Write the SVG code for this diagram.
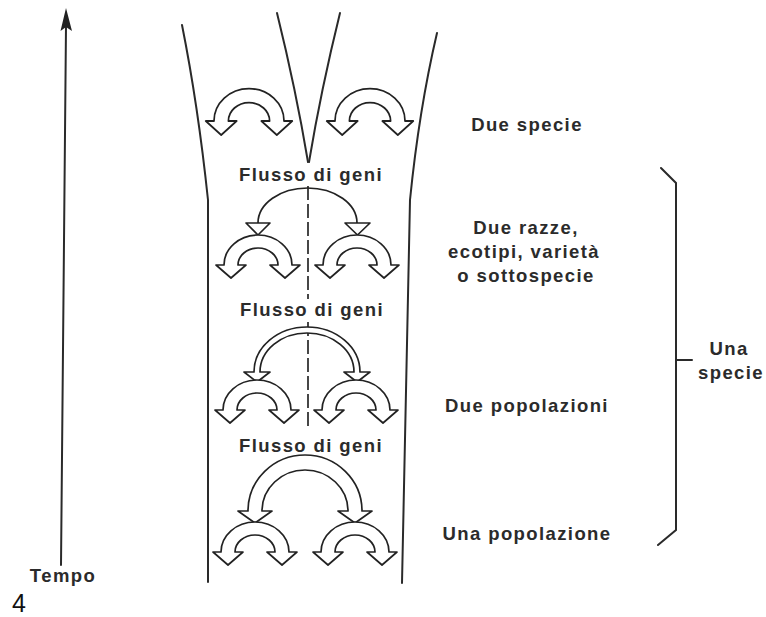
<svg xmlns="http://www.w3.org/2000/svg" width="766" height="617" viewBox="0 0 766 617">
<defs>
<style>
.lbl{font-family:"Liberation Sans",Arial,sans-serif;font-weight:bold;font-size:18.5px;letter-spacing:1.4px;fill:#2b2b2b;text-anchor:middle}
.num{font-family:"Liberation Sans",Arial,sans-serif;font-size:25px;fill:#111}
.ln{fill:none;stroke:#2a2a2a;stroke-width:2;stroke-linecap:round}
.hollow{fill:#fff;stroke:#222;stroke-width:1.7;stroke-linejoin:round}
.dash{fill:none;stroke:#333;stroke-width:1.8;stroke-dasharray:14 4}
</style>
<path id="pop" d="M -34 0 A 34 30 0 0 1 34 0 L 42 0 L 27 13 L 12 0 L 20 0 A 20 17 0 0 0 -20 0 L -12 0 L -27 13 L -42 0 Z"/>
</defs>
<rect width="766" height="617" fill="#fff"/>

<g id="time-axis">
<line class="ln" x1="61" y1="565" x2="66" y2="26"/>
<path d="M 66 8 L 72 31 L 66 27 L 60.5 31 Z" fill="#222"/>
<text class="lbl" x="63" y="582">Tempo</text>
</g>

<g id="tube">
<path class="ln" d="M 182 25 Q 198 105 208 200 L 208 582"/>
<path class="ln" d="M 437 33 Q 419 110 410 200 L 402 583"/>
<path class="ln" d="M 277 13 Q 296 90 308 162"/>
<path class="ln" d="M 340 13 Q 321 90 309 162"/>
</g>

<g id="connectors">
<path class="dash" d="M 308 186 L 308 299"/>
<path class="dash" d="M 308 322 L 308 430"/>
<path id="flow-2" fill="none" stroke="#222" stroke-width="1.7" d="M 258 223 A 49.5 35 0 0 1 357 223"/>
<path class="hollow" d="M 246 223 L 270 223 L 258 235 Z"/>
<path class="hollow" d="M 345 223 L 370 223 L 357.5 235 Z"/>
<path id="flow-3" class="hollow" d="M 254 372 A 53 45 0 0 1 360 372 L 370 372 L 357 382 L 344 372 L 354 372 A 47 39 0 0 0 260 372 L 270 372 L 257 382 L 244 372 Z"/>
<path id="flow-4" class="hollow" d="M 248 511 A 57 56 0 0 1 362 511 L 372 511 L 355 523 L 338 511 L 348 511 A 43 41 0 0 0 262 511 L 272 511 L 255 523 L 238 511 Z"/>
</g>

<g id="row1-left"><use href="#pop" class="hollow" transform="translate(249,121) scale(1.03,1.08)"/></g>
<g id="row1-right"><use href="#pop" class="hollow" transform="translate(370,121) scale(1.03,1.08)"/></g>
<g id="row2-left"><use href="#pop" class="hollow" transform="translate(258,265)"/></g>
<g id="row2-right"><use href="#pop" class="hollow" transform="translate(357,265)"/></g>
<g id="row3-left"><use href="#pop" class="hollow" transform="translate(257,410)"/></g>
<g id="row3-right"><use href="#pop" class="hollow" transform="translate(356,410)"/></g>
<g id="row4-left"><use href="#pop" class="hollow" transform="translate(255,552)"/></g>
<g id="row4-right"><use href="#pop" class="hollow" transform="translate(355,552)"/></g>

<g id="flow-labels">
<text class="lbl" x="311" y="181">Flusso di geni</text>
<text class="lbl" x="312" y="316">Flusso di geni</text>
<text class="lbl" x="311" y="452">Flusso di geni</text>
</g>

<g id="stage-labels">
<text class="lbl" x="527" y="131">Due specie</text>
<text class="lbl" x="526" y="234">Due razze,</text>
<text class="lbl" x="524" y="258">ecotipi, varietà</text>
<text class="lbl" x="526" y="282">o sottospecie</text>
<text class="lbl" x="527" y="412">Due popolazioni</text>
<text class="lbl" x="527" y="540">Una popolazione</text>
</g>

<g id="species-brace">
<path class="ln" d="M 661 168 L 676 183 L 676 530 L 658 545"/>
<line class="ln" x1="676" y1="360" x2="692" y2="360"/>
<text class="lbl" x="729" y="355">Una</text>
<text class="lbl" x="731" y="379">specie</text>
</g>

<text class="num" x="12" y="612">4</text>
</svg>
